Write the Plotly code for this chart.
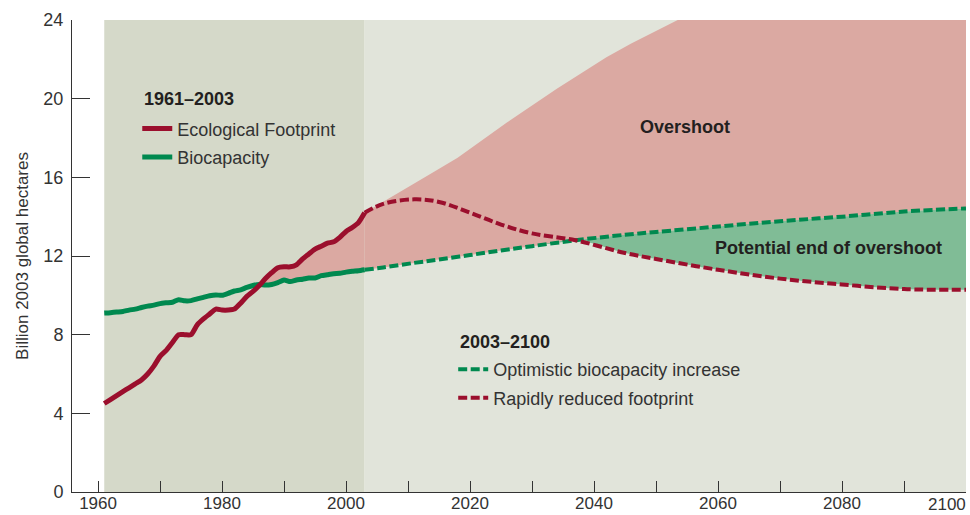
import numpy as np
import plotly.graph_objects as go

# ---------------- data ----------------
hist_years = list(range(1961, 2004))
footprint = [4.5, 4.7, 4.9, 5.1, 5.3, 5.5, 5.7, 6.0, 6.4, 6.9,
             7.2, 7.6, 8.0, 8.0, 8.0, 8.5, 8.8, 9.05, 9.3, 9.25,
             9.25, 9.3, 9.6, 9.95, 10.2, 10.5, 10.85, 11.15, 11.4, 11.45,
             11.45, 11.55, 11.85, 12.1, 12.35, 12.5, 12.65, 12.72, 12.95, 13.25,
             13.45, 13.7, 14.2]
biocapacity = [9.1, 9.12, 9.15, 9.18, 9.25, 9.3, 9.38, 9.45, 9.5, 9.58,
               9.62, 9.65, 9.78, 9.72, 9.73, 9.82, 9.9, 9.98, 10.02, 10.0,
               10.1, 10.22, 10.28, 10.4, 10.5, 10.55, 10.52, 10.55, 10.65, 10.78,
               10.7, 10.78, 10.82, 10.88, 10.88, 11.0, 11.05, 11.1, 11.12, 11.18,
               11.22, 11.25, 11.3]

proj_years = [2003, 2006, 2011, 2015, 2020, 2025, 2030, 2037, 2045, 2050,
              2060, 2070, 2080, 2090, 2100]
bio_optimistic = [11.3, 11.42, 11.65, 11.82, 12.05, 12.28, 12.5, 12.8, 13.08, 13.22,
                  13.5, 13.77, 14.0, 14.26, 14.42]
footprint_reduced = [14.2, 14.65, 14.88, 14.75, 14.2, 13.6, 13.15, 12.8, 12.15, 11.85,
                     11.3, 10.85, 10.55, 10.32, 10.28]

overshoot_years = [2003, 2006, 2010, 2014, 2018, 2022, 2026, 2030, 2034, 2038,
                   2042, 2046, 2050, 2053.5, 2100]
overshoot_top = [14.2, 14.75, 15.5, 16.25, 17.0, 17.9, 18.8, 19.65, 20.5, 21.3,
                 22.1, 22.8, 23.45, 24.0, 24.0]

x_ticks = list(range(1960, 2101, 10))
x_labels = [str(v) if v % 20 == 0 and v < 2100 else "" for v in x_ticks]
y_ticks = [0, 4, 8, 12, 16, 20, 24]

# ---------------- style ----------------
FONT = "Liberation Sans, Arial, Helvetica, sans-serif"
TXT = "#231f20"
RED = "#9b0f2d"
GREEN = "#00894f"
PINK = "#dba9a2"
GFILL = "#80bc96"
DARK_BG = "#d5d9c9"
LIGHT_BG = "#e1e4da"

fig = go.Figure()

# pre-2003 overshoot fill
fig.add_trace(go.Scatter(x=hist_years, y=biocapacity, mode="lines",
                         line=dict(width=0, shape="spline", smoothing=0.6),
                         showlegend=False, hoverinfo="skip"))
fig.add_trace(go.Scatter(x=hist_years, y=np.maximum(footprint, biocapacity).tolist(),
                         mode="lines", line=dict(width=0, shape="spline", smoothing=0.6),
                         fill="tonexty", fillcolor=PINK, showlegend=False,
                         hoverinfo="skip"))

# post-2003 overshoot fill
fig.add_trace(go.Scatter(x=proj_years, y=bio_optimistic, mode="lines",
                         line=dict(width=0, shape="spline"), showlegend=False,
                         hoverinfo="skip"))
fig.add_trace(go.Scatter(x=overshoot_years, y=overshoot_top, mode="lines",
                         line=dict(width=0), fill="tonexty", fillcolor=PINK,
                         showlegend=False, hoverinfo="skip"))

# potential end of overshoot fill
fig.add_trace(go.Scatter(x=proj_years,
                         y=np.minimum(footprint_reduced, bio_optimistic).tolist(),
                         mode="lines", line=dict(width=0, shape="spline"),
                         showlegend=False, hoverinfo="skip"))
fig.add_trace(go.Scatter(x=proj_years, y=bio_optimistic, mode="lines",
                         line=dict(width=0, shape="spline"), fill="tonexty",
                         fillcolor=GFILL, showlegend=False, hoverinfo="skip"))

# projected lines
fig.add_trace(go.Scatter(x=proj_years, y=bio_optimistic, mode="lines",
                         name="Optimistic biocapacity increase",
                         line=dict(color=GREEN, width=4, shape="spline", dash="9px,3.5px"),
                         legend="legend2", legendgroup="g3", legendrank=3))
fig.add_trace(go.Scatter(x=proj_years, y=footprint_reduced, mode="lines",
                         name="Rapidly reduced footprint",
                         line=dict(color=RED, width=4, shape="spline", dash="9px,3.5px"),
                         legend="legend2", legendgroup="g4", legendrank=4))

# historical lines
fig.add_trace(go.Scatter(x=hist_years, y=biocapacity, mode="lines", name="Biocapacity",
                         line=dict(color=GREEN, width=5, shape="spline", smoothing=0.6),
                         legend="legend", legendgroup="g2", legendrank=2))
fig.add_trace(go.Scatter(x=hist_years, y=footprint, mode="lines",
                         name="Ecological Footprint",
                         line=dict(color=RED, width=5, shape="spline", smoothing=0.6),
                         legend="legend", legendgroup="g1", legendrank=1))

# background panels
fig.add_shape(type="rect", xref="x", yref="y", x0=1961, x1=2003, y0=0, y1=24,
              fillcolor=DARK_BG, line=dict(width=0), layer="below")
fig.add_shape(type="rect", xref="x", yref="y", x0=2003, x1=2100, y0=0, y1=24,
              fillcolor=LIGHT_BG, line=dict(width=0), layer="below")

# text labels
fig.add_annotation(x=2054.6, y=18.56, text="<b>Overshoot</b>", showarrow=False,
                   font=dict(size=18, color=TXT, family=FONT))
fig.add_annotation(x=2077.8, y=12.4, text="<b>Potential end of overshoot</b>",
                   showarrow=False, font=dict(size=18, color=TXT, family=FONT))
fig.add_annotation(x=2100, y=0, xref="x", yref="y", text="2100", showarrow=False,
                   xanchor="right", yanchor="top", xshift=2, yshift=-1,
                   font=dict(size=17, color="#333333", family=FONT))
# legend headings
fig.add_annotation(x=0.0785, y=0.8335, xref="paper", yref="paper",
                   text="<b>1961–2003</b>", showarrow=False, xanchor="left",
                   yanchor="middle", font=dict(size=18, color=TXT, family=FONT))
fig.add_annotation(x=0.4321, y=0.318, xref="paper", yref="paper",
                   text="<b>2003–2100</b>", showarrow=False, xanchor="left",
                   yanchor="middle", font=dict(size=18, color=TXT, family=FONT))

legend_common = dict(
    xanchor="left", yanchor="top", bgcolor="rgba(0,0,0,0)", borderwidth=0,
    font=dict(size=18, color="#333333", family=FONT),
    traceorder="grouped", tracegroupgap=2, itemwidth=30,
)

fig.update_layout(
    width=970, height=515,
    margin=dict(l=72, r=4, t=20, b=23),
    paper_bgcolor="white", plot_bgcolor="white",
    font=dict(family=FONT, color="#333333", size=18),
    showlegend=True,
    legend=dict(x=0.073, y=0.8087, **legend_common),
    legend2=dict(x=0.4264, y=0.2985, **legend_common),
    xaxis=dict(range=[1955.8, 2100], tickmode="array", tickvals=x_ticks,
               ticktext=x_labels, ticks="inside", ticklen=11, tickwidth=1,
               tickcolor="#333333", showline=True, linecolor="#333333", linewidth=1,
               showgrid=False, zeroline=False, tickfont=dict(size=17),
               ticklabelstandoff=-4, automargin=False),
    yaxis=dict(range=[0, 24], tickmode="array", tickvals=y_ticks, ticks="inside",
               ticklen=18, tickwidth=1, tickcolor="#333333", showline=True,
               linecolor="#333333", linewidth=1, showgrid=False, zeroline=False,
               tickfont=dict(size=18), ticklabelstandoff=4,
               title=dict(text="Billion 2003 global hectares",
                          font=dict(size=17, color="#333333"), standoff=10),
               automargin=False),
)

fig.write_html("out.html", config={"displayModeBar": False},
               post_script="document.body.style.margin='0';")
